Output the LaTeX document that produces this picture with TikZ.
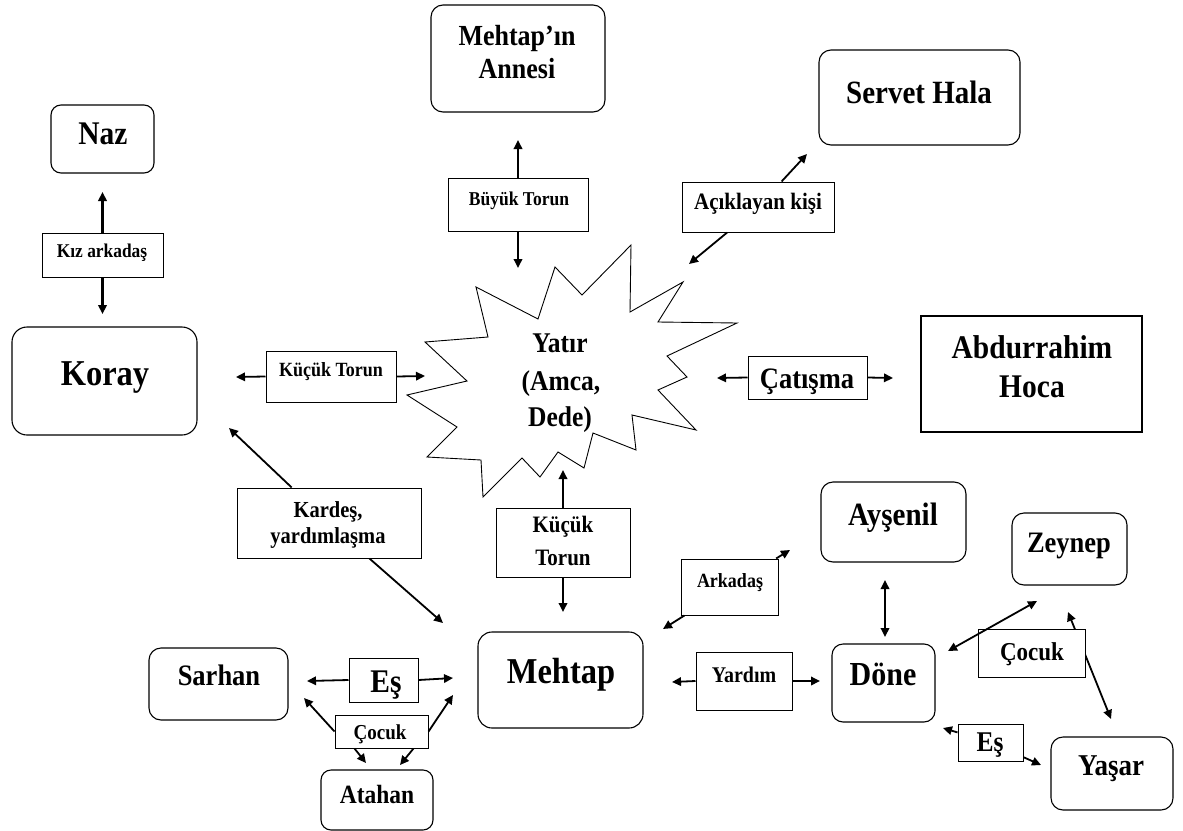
\documentclass[tikz,border=0pt]{standalone}
\usepackage{fontspec}
\usepackage{graphicx}
\setmainfont{Liberation Serif}
\usetikzlibrary{arrows.meta,calc}
\newcommand\fsz[1]{\fontsize{#1}{#1}\selectfont\bfseries}
\newcommand\vs[1]{\scalebox{1}[1.12]{#1}}
\begin{document}
\begin{tikzpicture}[x=1pt,y=-1pt,
  rbox/.style={draw, line width=1.1pt, rounded corners=12pt, inner sep=0pt, fill=white},
  sbox/.style={draw, line width=1.1pt, inner sep=0pt, fill=white},
  lbox/.style={draw, line width=1pt, inner sep=0pt, fill=white},
  tx/.style={anchor=base, inner sep=0pt},
  arr/.style={line width=1.8pt, -{Triangle[length=9pt,width=8.5pt]}},
  darr/.style={line width=1.8pt, {Triangle[length=9pt,width=8.5pt]}-{Triangle[length=9pt,width=8.5pt]}}]
\useasboundingbox (0,0) rectangle (1183,830);

% star
\draw[line width=0.9pt] (476,287) -- (538,319) -- (555,267) -- (582,295) -- (631,245) -- (630,312)
  -- (683,282) -- (658,322) -- (737,323) -- (667,356) -- (687,377) -- (658,390) -- (696,430)
  -- (632,415) -- (636,450) -- (593,433) -- (584,468) -- (558,452) -- (540,477) -- (522,458)
  -- (483,497) -- (481,460) -- (427,457) -- (457,427) -- (407,395) -- (467,381) -- (425,342)
  -- (488,337) -- cycle;
\node[tx, font=\fsz{25.5}] (y1) at (560,352) {\vs{Yatır}};
\node[tx, font=\fsz{25.5}] (y2) at (561,390) {\vs{(Amca,}};
\node[tx, font=\fsz{25.5}] (y3) at (560,426) {\vs{Dede)}};

% free arrow ends
\coordinate (tNazU) at (102.5,192);
\coordinate (tKorU) at (102.5,314);
\coordinate (tKorR) at (236,377);
\coordinate (tYatL) at (425,376);
\coordinate (tAnnD) at (518,140);
\coordinate (tYatU) at (518,268);
\coordinate (tServ) at (807,154);
\coordinate (tYatUR) at (689,264);
\coordinate (tYatR) at (717,378);
\coordinate (tAbdL) at (893,378);
\coordinate (tKorD) at (229,428);
\coordinate (tMehUL) at (443,623);
\coordinate (tYatD) at (563,470);
\coordinate (tMehU) at (563,612);
\coordinate (tAys) at (790,550);
\coordinate (tMehUR) at (663,629);
\coordinate (aA) at (885,580);
\coordinate (aB) at (885,637);
\coordinate (zA) at (948,651);
\coordinate (zB) at (1037,601);
\coordinate (yA) at (1068,612);
\coordinate (yB) at (1111,719);
\coordinate (tDonDR) at (943,728);
\coordinate (tYas) at (1041,765);
\coordinate (tMehR) at (672,682);
\coordinate (tDonL) at (820,681);
\coordinate (tSarR) at (307,681);
\coordinate (tMehL) at (453,678);
\coordinate (tSarD) at (304,698);
\coordinate (tMehDL) at (453,695);
\coordinate (tAtaL) at (366,763);
\coordinate (tAtaR) at (400,765);

% long pass-through arrow (drawn before its label box)
\draw[darr] (yA) -- (yB);

% boxes
\node[rbox, minimum width=174pt, minimum height=107pt] (annesi) at (518,58.5) {};
\node[tx, font=\fsz{26}] (annesiA) at (517,45) {\vs{Mehtap’ın}};
\node[tx, font=\fsz{26}] (annesiB) at (517,78) {\vs{Annesi}};

\node[rbox, minimum width=201pt, minimum height=95pt] (servet) at (919.5,97.5) {};
\node[tx, font=\fsz{29}] (servetT) at (919,103) {\vs{Servet Hala}};

\node[rbox, rounded corners=10pt, minimum width=103pt, minimum height=68pt] (naz) at (102.5,139) {};
\node[tx, font=\fsz{29.5}] (nazT) at (103,144) {\vs{Naz}};

\node[lbox, minimum width=121pt, minimum height=44pt] (kiz) at (102.5,255) {};
\node[tx, font=\fsz{17.4}] (kizT) at (102,257) {\vs{Kız arkadaş}};

\node[rbox, rounded corners=15pt, minimum width=185pt, minimum height=108pt] (koray) at (104.5,381) {};
\node[tx, font=\fsz{32.5}] (korayT) at (105,385) {\vs{Koray}};

\node[lbox, minimum width=130pt, minimum height=51pt] (kt1) at (331,376.5) {};
\node[tx, font=\fsz{18}] (kt1T) at (331,376) {\vs{Küçük Torun}};

\node[lbox, minimum width=140pt, minimum height=53pt] (buyuk) at (518,204.5) {};
\node[tx, font=\fsz{17.5}] (buyukT) at (519,205) {\vs{Büyük Torun}};

\node[lbox, minimum width=152pt, minimum height=50pt] (acik) at (758,207) {};
\node[tx, font=\fsz{21}] (acikT) at (758,209) {\vs{Açıklayan kişi}};

\node[lbox, minimum width=119pt, minimum height=43pt] (cat) at (807.5,377.5) {};
\node[tx, font=\fsz{26.5}] (catT) at (807,388) {\vs{Çatışma}};

\node[sbox, minimum width=221pt, minimum height=116pt] (abd) at (1031.5,374) {};
\node[tx, font=\fsz{29.5}] (abdA) at (1032,358) {\vs{Abdurrahim}};
\node[tx, font=\fsz{29.5}] (abdB) at (1032,397) {\vs{Hoca}};

\node[lbox, minimum width=184pt, minimum height=70pt] (kardes) at (329,523) {};
\node[tx, font=\fsz{20.5}] (kardesA) at (328,517) {\vs{Kardeş,}};
\node[tx, font=\fsz{20.5}] (kardesB) at (328,543) {\vs{yardımlaşma}};

\node[lbox, minimum width=134pt, minimum height=69pt] (kt2) at (563,542.5) {};
\node[tx, font=\fsz{21}] (kt2A) at (563,532) {\vs{Küçük}};
\node[tx, font=\fsz{21}] (kt2B) at (563,565) {\vs{Torun}};

\node[rbox, rounded corners=14pt, minimum width=165pt, minimum height=96pt] (mehtap) at (560.5,680) {};
\node[tx, font=\fsz{32.5}] (mehtapT) at (561,683) {\vs{Mehtap}};

\node[lbox, minimum width=97pt, minimum height=56pt] (ark) at (729.5,587) {};
\node[tx, font=\fsz{18}] (arkT) at (730,587) {\vs{Arkadaş}};

\node[rbox, minimum width=145pt, minimum height=80pt] (ays) at (893.5,522) {};
\node[tx, font=\fsz{29}] (aysT) at (893,525) {\vs{Ayşenil}};

\node[rbox, rounded corners=11pt, minimum width=103pt, minimum height=78pt] (done) at (883.5,683) {};
\node[tx, font=\fsz{30}] (doneT) at (883,685) {\vs{Döne}};

\node[rbox, minimum width=115pt, minimum height=72pt] (zey) at (1069.5,549) {};
\node[tx, font=\fsz{26.5}] (zeyT) at (1069,552) {\vs{Zeynep}};

\node[lbox, minimum width=107pt, minimum height=48pt] (coc2) at (1031.5,653) {};
\node[tx, font=\fsz{23}] (coc2T) at (1032,660) {\vs{Çocuk}};

\node[lbox, minimum width=65pt, minimum height=37pt] (es2) at (990.5,742.5) {};
\node[tx, font=\fsz{25.5}] (es2T) at (990,751) {\vs{Eş}};

\node[rbox, minimum width=122pt, minimum height=73pt] (yas) at (1112,773.5) {};
\node[tx, font=\fsz{27}] (yasT) at (1111,775) {\vs{Yaşar}};

\node[lbox, minimum width=96pt, minimum height=58pt] (yard) at (744,681) {};
\node[tx, font=\fsz{20}] (yardT) at (744,682) {\vs{Yardım}};

\node[rbox, minimum width=139pt, minimum height=72pt] (sar) at (218.5,684) {};
\node[tx, font=\fsz{26.5}] (sarT) at (219,685) {\vs{Sarhan}};

\node[lbox, minimum width=69pt, minimum height=44pt] (es1) at (383.5,680) {};
\node[tx, font=\fsz{29.5}] (es1T) at (386,692) {\vs{Eş}};

\node[lbox, minimum width=93pt, minimum height=33pt] (coc1) at (381.5,731.5) {};
\node[tx, font=\fsz{19}] (coc1T) at (380,739) {\vs{Çocuk}};

\node[rbox, rounded corners=10pt, minimum width=112pt, minimum height=60pt] (ata) at (377,800) {};
\node[tx, font=\fsz{23.5}] (ataT) at (377,803) {\vs{Atahan}};

% connectors
\draw[arr, line width=2.2pt] (kiz.north) -- (tNazU);
\draw[arr, line width=2.2pt] (kiz.south) -- (tKorU);
\draw[arr] (kt1.west) -- (tKorR);
\draw[arr] (kt1.east) -- (tYatL);
\draw[arr] (buyuk.north) -- (tAnnD);
\draw[arr] (buyuk.south) -- (tYatU);
\draw[arr] (acik) -- (tServ);
\draw[arr] (acik) -- (tYatUR);
\draw[arr] (cat.west) -- (tYatR);
\draw[arr] (cat.east) -- (tAbdL);
\draw[arr] (kardes) -- (tKorD);
\draw[arr] (kardes) -- (tMehUL);
\draw[arr] (kt2.north) -- (tYatD);
\draw[arr] (kt2.south) -- (tMehU);
\draw[arr] (ark) -- (tAys);
\draw[arr] (ark) -- (tMehUR);
\draw[darr] (aA) -- (aB);
\draw[darr] (zA) -- (zB);
\draw[arr] (es2) -- (tDonDR);
\draw[arr] (es2) -- (tYas);
\draw[arr] (yard.west) -- (tMehR);
\draw[arr] (yard.east) -- (tDonL);
\draw[arr] (es1.west) -- (tSarR);
\draw[arr] (es1.east) -- (tMehL);
\draw[arr] (coc1.west) -- (tSarD);
\draw[arr] (coc1.east) -- (tMehDL);
\draw[arr] ($(coc1.south west)+(20,0)$) -- (tAtaL);
\draw[arr] ($(coc1.south east)+(-15,0)$) -- (tAtaR);
\end{tikzpicture}
\end{document}
